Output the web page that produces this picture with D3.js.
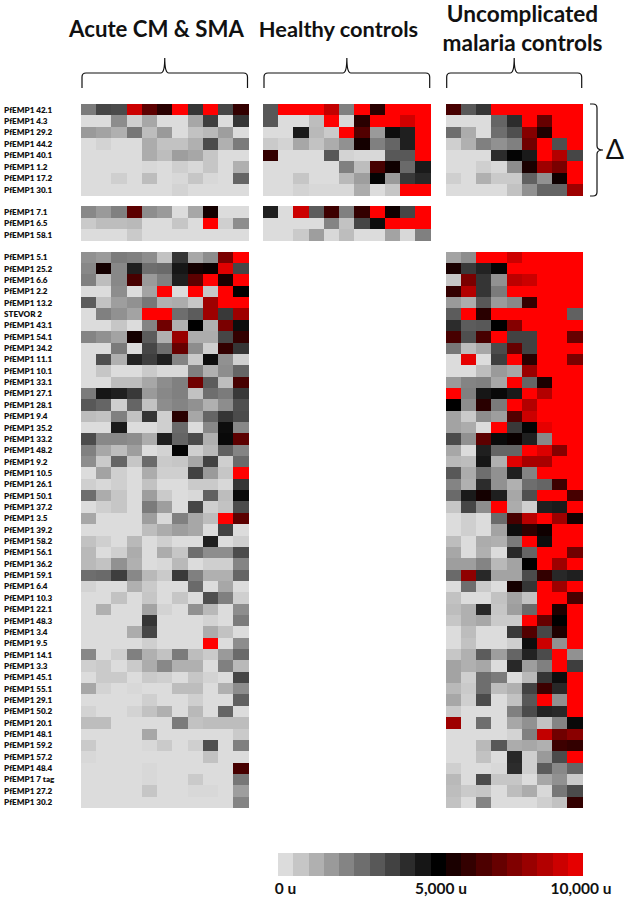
<!DOCTYPE html>
<html>
<head>
<meta charset="utf-8">
<title>PfEMP1 heat map</title>
<script src="https://cdn.jsdelivr.net/npm/d3@7"></script>
<style>
  html, body { margin: 0; padding: 0; background: #fff; }
  svg { display: block; font-family: Lato, sans-serif; font-weight: 700; }
</style>
</head>
<body>
<div id="chart"></div>
<script>
// Row labels per block
const labelsDelta = ['PfEMP1 42.1', 'PfEMP1 4.3', 'PfEMP1 29.2', 'PfEMP1 44.2', 'PfEMP1 40.1', 'PfEMP1 1.2', 'PfEMP1 17.2', 'PfEMP1 30.1'];
const labelsMid = ['PfEMP1 7.1', 'PfEMP1 6.5', 'PfEMP1 58.1'];
const labelsLow = ['PfEMP1 5.1', 'PfEMP1 25.2', 'PfEMP1 6.6', 'PfEMP1 2.2', 'PfEMP1 13.2', 'STEVOR 2', 'PfEMP1 43.1', 'PfEMP1 54.1', 'PfEMP1 34.2', 'PfEMP1 11.1',
  'PfEMP1 10.1', 'PfEMP1 33.1', 'PfEMP1 27.1', 'PfEMP1 28.1', 'PfEMP1 9.4', 'PfEMP1 35.2', 'PfEMP1 33.2', 'PfEMP1 48.2', 'PfEMP1 9.2', 'PfEMP1 10.5',
  'PfEMP1 26.1', 'PfEMP1 50.1', 'PfEMP1 37.2', 'PfEMP1 3.5', 'PfEMP1 39.2', 'PfEMP1 58.2', 'PfEMP1 56.1', 'PfEMP1 36.2', 'PfEMP1 59.1', 'PfEMP1 6.4',
  'PfEMP1 10.3', 'PfEMP1 22.1', 'PfEMP1 48.3', 'PfEMP1 3.4', 'PfEMP1 9.5', 'PfEMP1 14.1', 'PfEMP1 3.3', 'PfEMP1 45.1', 'PfEMP1 55.1', 'PfEMP1 29.1',
  'PfEMP1 50.2', 'PfEMP1 20.1', 'PfEMP1 48.1', 'PfEMP1 59.2', 'PfEMP1 57.2', 'PfEMP1 48.4', 'PfEMP1 7 tag', 'PfEMP1 27.2', 'PfEMP1 30.2'];

// Cell values, in hundreds of units (0 = 0 u, 100 = 10,000 u)
const acuteDelta = [
  [22, 34, 33, 90, 68, 58, 100, 38, 100, 34, 60],
  [0, 0, 18, 3, 12, 0, 0, 12, 36, 0, 38],
  [15, 13, 10, 23, 7, 15, 0, 6, 8, 14, 0],
  [0, 2, 0, 0, 11, 6, 6, 10, 33, 10, 22],
  [0, 0, 0, 0, 11, 7, 14, 12, 5, 0, 0],
  [0, 0, 0, 0, 1, 0, 3, 1, 5, 0, 10],
  [0, 0, 3, 0, 7, 0, 1, 5, 1, 0, 27],
  [0, 0, 0, 0, 0, 0, 2, 0, 0, 0, 0]
];
const acuteMid = [
  [19, 15, 21, 68, 18, 15, 0, 12, 54, 0, 0],
  [4, 7, 7, 8, 0, 0, 5, 0, 100, 3, 18],
  [0, 0, 0, 4, 0, 0, 0, 0, 0, 0, 0]
];
const acuteLow = [
  [17, 15, 22, 21, 18, 6, 38, 12, 18, 74, 100],
  [19, 54, 19, 43, 25, 26, 45, 54, 52, 94, 34],
  [21, 7, 19, 64, 15, 21, 43, 68, 100, 55, 100],
  [0, 0, 18, 0, 13, 100, 0, 100, 5, 100, 50],
  [29, 6, 14, 17, 23, 10, 11, 5, 81, 100, 100],
  [0, 21, 17, 13, 100, 100, 25, 29, 81, 37, 81],
  [0, 0, 5, 0, 20, 72, 10, 50, 10, 74, 47],
  [20, 17, 13, 54, 29, 10, 80, 11, 11, 34, 60],
  [0, 0, 22, 0, 34, 25, 70, 18, 3, 60, 38],
  [0, 32, 10, 42, 36, 43, 20, 4, 47, 17, 3],
  [0, 5, 0, 0, 4, 1, 1, 21, 10, 18, 27],
  [0, 0, 7, 7, 12, 18, 21, 72, 29, 7, 64],
  [22, 45, 43, 37, 15, 19, 21, 6, 25, 22, 37],
  [30, 27, 3, 27, 6, 18, 20, 17, 10, 18, 32],
  [7, 6, 21, 6, 38, 3, 58, 12, 27, 38, 33],
  [0, 0, 44, 0, 0, 3, 26, 0, 19, 47, 19],
  [33, 19, 19, 18, 11, 43, 27, 33, 10, 48, 68],
  [21, 12, 7, 14, 0, 2, 49, 3, 8, 28, 20],
  [18, 4, 27, 5, 26, 4, 5, 12, 35, 3, 26],
  [0, 13, 3, 0, 11, 3, 3, 35, 15, 5, 100],
  [3, 1, 3, 0, 6, 0, 0, 4, 4, 1, 38],
  [25, 11, 5, 0, 14, 4, 0, 1, 28, 7, 48],
  [0, 3, 5, 0, 22, 14, 0, 34, 3, 6, 33],
  [12, 0, 0, 0, 14, 1, 21, 12, 7, 100, 68],
  [0, 0, 0, 0, 7, 11, 14, 12, 0, 35, 0],
  [6, 3, 0, 8, 0, 3, 0, 0, 43, 0, 3],
  [8, 0, 3, 11, 0, 11, 5, 25, 18, 18, 33],
  [8, 6, 17, 10, 0, 1, 8, 0, 3, 3, 20],
  [25, 26, 36, 19, 8, 4, 37, 21, 10, 10, 27],
  [2, 0, 0, 10, 4, 0, 0, 26, 0, 12, 0],
  [0, 0, 6, 0, 5, 0, 5, 0, 32, 21, 3],
  [0, 10, 0, 0, 13, 2, 0, 17, 8, 0, 18],
  [0, 0, 0, 0, 38, 0, 0, 0, 2, 0, 22],
  [0, 0, 0, 11, 34, 0, 0, 0, 11, 6, 0],
  [0, 0, 0, 0, 3, 0, 0, 0, 100, 0, 18],
  [19, 0, 3, 21, 10, 6, 22, 7, 4, 15, 26],
  [3, 4, 0, 4, 11, 19, 10, 10, 0, 21, 8],
  [0, 4, 4, 0, 4, 3, 0, 5, 2, 0, 34],
  [12, 2, 0, 1, 0, 0, 7, 7, 0, 10, 18],
  [0, 0, 0, 0, 3, 0, 0, 3, 0, 0, 28],
  [2, 0, 0, 2, 6, 10, 0, 8, 0, 27, 0],
  [7, 7, 0, 0, 0, 0, 22, 6, 7, 7, 7],
  [0, 0, 0, 0, 12, 0, 0, 0, 0, 0, 4],
  [4, 0, 0, 0, 1, 4, 0, 3, 32, 0, 21],
  [1, 0, 0, 0, 0, 0, 0, 0, 6, 0, 0],
  [0, 0, 0, 0, 1, 0, 0, 0, 0, 0, 64],
  [0, 0, 0, 0, 1, 0, 0, 4, 0, 0, 23],
  [0, 0, 0, 0, 5, 0, 0, 1, 1, 0, 14],
  [0, 0, 0, 0, 0, 0, 0, 0, 0, 0, 20]
];
const healthyDelta = [
  [30, 100, 100, 100, 88, 21, 100, 58, 100, 100, 100],
  [30, 0, 0, 7, 100, 1, 58, 100, 100, 91, 100],
  [0, 0, 44, 8, 4, 100, 66, 15, 47, 43, 100],
  [4, 2, 12, 6, 11, 17, 54, 21, 27, 43, 100],
  [60, 0, 0, 0, 30, 2, 1, 1, 30, 30, 100],
  [0, 0, 0, 0, 0, 21, 7, 64, 53, 26, 44],
  [0, 0, 5, 0, 0, 8, 14, 49, 15, 37, 41],
  [0, 0, 2, 1, 1, 1, 11, 0, 5, 100, 100]
];
const healthyMid = [
  [43, 0, 90, 29, 62, 21, 60, 100, 53, 34, 100],
  [0, 0, 0, 0, 20, 6, 34, 47, 100, 100, 100],
  [0, 0, 4, 14, 1, 7, 0, 0, 13, 1, 21]
];
const malariaDelta = [
  [64, 30, 38, 100, 100, 100, 100, 100, 100],
  [0, 0, 0, 27, 40, 100, 70, 100, 100],
  [25, 11, 0, 25, 32, 76, 56, 100, 100],
  [3, 10, 21, 17, 21, 72, 100, 32, 100],
  [0, 0, 0, 40, 49, 44, 100, 85, 34],
  [0, 0, 3, 1, 18, 55, 81, 74, 100],
  [3, 0, 10, 4, 4, 28, 17, 53, 100],
  [0, 0, 0, 0, 6, 17, 27, 27, 81]
];
const malariaLow = [
  [13, 18, 100, 100, 90, 100, 100, 100, 100],
  [55, 37, 42, 49, 100, 100, 100, 100, 100],
  [5, 74, 38, 17, 87, 90, 100, 100, 100],
  [60, 85, 38, 22, 100, 100, 100, 100, 100],
  [15, 11, 30, 15, 19, 60, 100, 100, 100],
  [29, 100, 58, 100, 100, 100, 100, 100, 28],
  [40, 29, 30, 50, 76, 100, 100, 100, 100],
  [64, 32, 64, 100, 35, 35, 100, 100, 70],
  [23, 7, 12, 33, 70, 35, 100, 100, 100],
  [0, 95, 0, 36, 100, 58, 100, 100, 74],
  [0, 0, 7, 15, 12, 80, 100, 100, 100],
  [15, 20, 21, 12, 100, 27, 55, 100, 100],
  [100, 21, 45, 48, 44, 100, 85, 100, 100],
  [50, 18, 58, 22, 100, 85, 100, 100, 100],
  [13, 4, 18, 14, 66, 90, 100, 100, 100],
  [13, 11, 0, 100, 37, 49, 95, 100, 100],
  [33, 17, 68, 48, 52, 43, 19, 100, 100],
  [12, 0, 43, 27, 27, 100, 93, 76, 100],
  [8, 7, 45, 10, 94, 83, 83, 100, 100],
  [30, 11, 25, 17, 43, 20, 100, 100, 100],
  [20, 10, 40, 17, 10, 25, 27, 62, 100],
  [26, 44, 54, 43, 12, 32, 100, 100, 64],
  [5, 34, 18, 100, 11, 3, 43, 44, 100],
  [0, 3, 0, 26, 64, 86, 100, 81, 54],
  [0, 3, 0, 13, 47, 59, 53, 100, 100],
  [7, 0, 11, 10, 22, 100, 47, 100, 100],
  [12, 0, 10, 0, 41, 27, 100, 100, 72],
  [14, 14, 20, 8, 13, 50, 100, 81, 100],
  [26, 78, 41, 13, 13, 33, 60, 41, 43],
  [0, 25, 4, 0, 54, 38, 100, 81, 100],
  [6, 0, 0, 6, 13, 6, 100, 100, 64],
  [7, 10, 41, 5, 14, 26, 100, 56, 100],
  [5, 10, 12, 4, 4, 100, 70, 50, 100],
  [0, 7, 0, 0, 37, 66, 34, 56, 100],
  [0, 6, 0, 0, 3, 47, 90, 17, 100],
  [5, 10, 29, 14, 27, 42, 33, 100, 17],
  [13, 10, 12, 0, 41, 14, 21, 100, 36],
  [13, 3, 25, 22, 0, 8, 38, 47, 100],
  [8, 4, 25, 7, 10, 35, 62, 41, 100],
  [12, 3, 33, 0, 6, 30, 100, 17, 100],
  [4, 0, 0, 0, 21, 33, 42, 41, 100],
  [81, 0, 25, 0, 12, 17, 6, 20, 48],
  [0, 0, 0, 0, 2, 21, 88, 72, 77],
  [0, 0, 8, 30, 11, 12, 10, 62, 60],
  [0, 0, 6, 0, 41, 3, 15, 33, 100],
  [3, 0, 0, 1, 40, 3, 29, 19, 27],
  [8, 0, 33, 5, 5, 0, 12, 17, 4],
  [7, 4, 5, 0, 7, 11, 1, 23, 33],
  [6, 0, 20, 0, 0, 0, 3, 6, 60]
];

// Legend swatches, same unit as the cells, and its labels
const legendValues = [0, 5, 10, 15, 20, 25, 30, 35, 40, 45, 50, 55, 60, 65, 70, 75, 80, 85, 90, 95];
const legendLabels = ['0 u', '5,000 u', '10,000 u'];
const titleLines = {
  acute: ['Acute CM & SMA'],
  healthy: ['Healthy controls'],
  malaria: ['Uncomplicated', 'malaria controls']
};

const width = 625;
const height = 901;

const color = d3.scaleLinear()
  .domain([0, 50, 100])
  .range(['#dcdcdc', '#000000', '#ff0000']);

// Column scales and title placement, one per panel
const columns = (n, x0, x1) => d3.scaleBand().domain(d3.range(n)).range([x0, x1]);
const panels = {
  acute: { x: columns(11, 81, 248.5), titleX: 156.5, titleSize: 22.2, titleY: 37 },
  healthy: { x: columns(11, 263, 430.7), titleX: 338.5, titleSize: 21.8, titleY: 37 },
  malaria: { x: columns(9, 445.7, 582.7), titleX: 522.5, titleSize: 22.6, titleY: 22 }
};

// Vertical blocks of rows
const blocks = [
  { labels: labelsDelta, y0: 104, y1: 195.7, data: { acute: acuteDelta, healthy: healthyDelta, malaria: malariaDelta } },
  { labels: labelsMid, y0: 206, y1: 241, data: { acute: acuteMid, healthy: healthyMid } },
  { labels: labelsLow, y0: 251.7, y1: 808, data: { acute: acuteLow, malaria: malariaLow } }
];

const svg = d3.select('#chart').append('svg')
  .attr('width', width)
  .attr('height', height);

blocks.forEach(block => {
  const y = d3.scaleBand().domain(block.labels).range([block.y0, block.y1]);

  svg.append('g').selectAll('text')
    .data(block.labels)
    .join('text')
    .attr('x', 4)
    .attr('y', d => y(d) + y.bandwidth() / 2)
    .attr('dy', '0.35em')
    .attr('font-size', 8.1)
    .attr('font-weight', 800)
    .attr('fill', '#111')
    .text(d => d);

  Object.keys(block.data).forEach(key => {
    const x = panels[key].x;
    const row = svg.append('g').selectAll('g')
      .data(block.data[key])
      .join('g')
      .attr('transform', (d, i) => `translate(0,${y(block.labels[i])})`);

    row.selectAll('rect')
      .data(d => d)
      .join('rect')
      .attr('x', (d, i) => x(i))
      .attr('width', x.bandwidth())
      .attr('height', y.bandwidth())
      .attr('shape-rendering', 'crispEdges')
      .attr('fill', d => color(d));
  });
});

// Curly bracket opening downwards above a panel
function topBrace(x0, x1, top, mid, bottom) {
  const c = (x0 + x1) / 2;
  const r = 4;
  const p = d3.path();
  p.moveTo(x0, bottom);
  p.lineTo(x0, mid + r);
  p.quadraticCurveTo(x0, mid, x0 + r, mid);
  p.lineTo(c - r, mid);
  p.quadraticCurveTo(c, mid, c, top);
  p.quadraticCurveTo(c, mid, c + r, mid);
  p.lineTo(x1 - r, mid);
  p.quadraticCurveTo(x1, mid, x1, mid + r);
  p.lineTo(x1, bottom);
  return p.toString();
}

// Curly bracket opening to the left, beside a block
function sideBrace(y0, y1, left, mid, right) {
  const c = (y0 + y1) / 2;
  const r = 4;
  const p = d3.path();
  p.moveTo(left, y0);
  p.lineTo(mid - r, y0);
  p.quadraticCurveTo(mid, y0, mid, y0 + r);
  p.lineTo(mid, c - r);
  p.quadraticCurveTo(mid, c, right, c);
  p.quadraticCurveTo(mid, c, mid, c + r);
  p.lineTo(mid, y1 - r);
  p.quadraticCurveTo(mid, y1, mid - r, y1);
  p.lineTo(left, y1);
  return p.toString();
}

const braceStyle = sel => sel.attr('fill', 'none').attr('stroke', '#111').attr('stroke-width', 1.2);

Object.values(panels).forEach(panel => {
  const [x0, x1] = panel.x.range();
  svg.append('path')
    .attr('d', topBrace(x0 + 1, x1 - 1, 58, 73, 88))
    .call(braceStyle);
});

svg.append('path')
  .attr('d', sideBrace(104, 196, 590, 597, 603))
  .call(braceStyle);

svg.append('text')
  .attr('x', 615)
  .attr('y', 150)
  .attr('dy', '0.35em')
  .attr('text-anchor', 'middle')
  .attr('font-size', 27)
  .attr('font-weight', 400)
  .attr('fill', '#111')
  .text('Δ');

// Panel titles
Object.keys(titleLines).forEach(key => {
  const panel = panels[key];
  svg.append('text')
    .attr('text-anchor', 'middle')
    .attr('font-size', panel.titleSize)
    .attr('fill', '#111')
    .selectAll('tspan')
    .data(titleLines[key])
    .join('tspan')
    .attr('x', panel.titleX)
    .attr('y', (d, i) => panel.titleY + i * 29)
    .text(d => d);
});

// Colour legend
const legendX = d3.scaleBand().domain(legendValues).range([278, 583]);
const legendLabelX = [285.5, 441, 581];

svg.append('g').selectAll('rect')
  .data(legendValues)
  .join('rect')
  .attr('x', d => legendX(d))
  .attr('y', 853)
  .attr('width', legendX.bandwidth())
  .attr('height', 23)
  .attr('shape-rendering', 'crispEdges')
  .attr('fill', d => color(d));

svg.append('g').selectAll('text')
  .data(legendLabels)
  .join('text')
  .attr('x', (d, i) => legendLabelX[i])
  .attr('y', 894)
  .attr('text-anchor', 'middle')
  .attr('font-size', 15.5)
  .attr('fill', '#111')
  .text(d => d);
</script>
</body>
</html>
